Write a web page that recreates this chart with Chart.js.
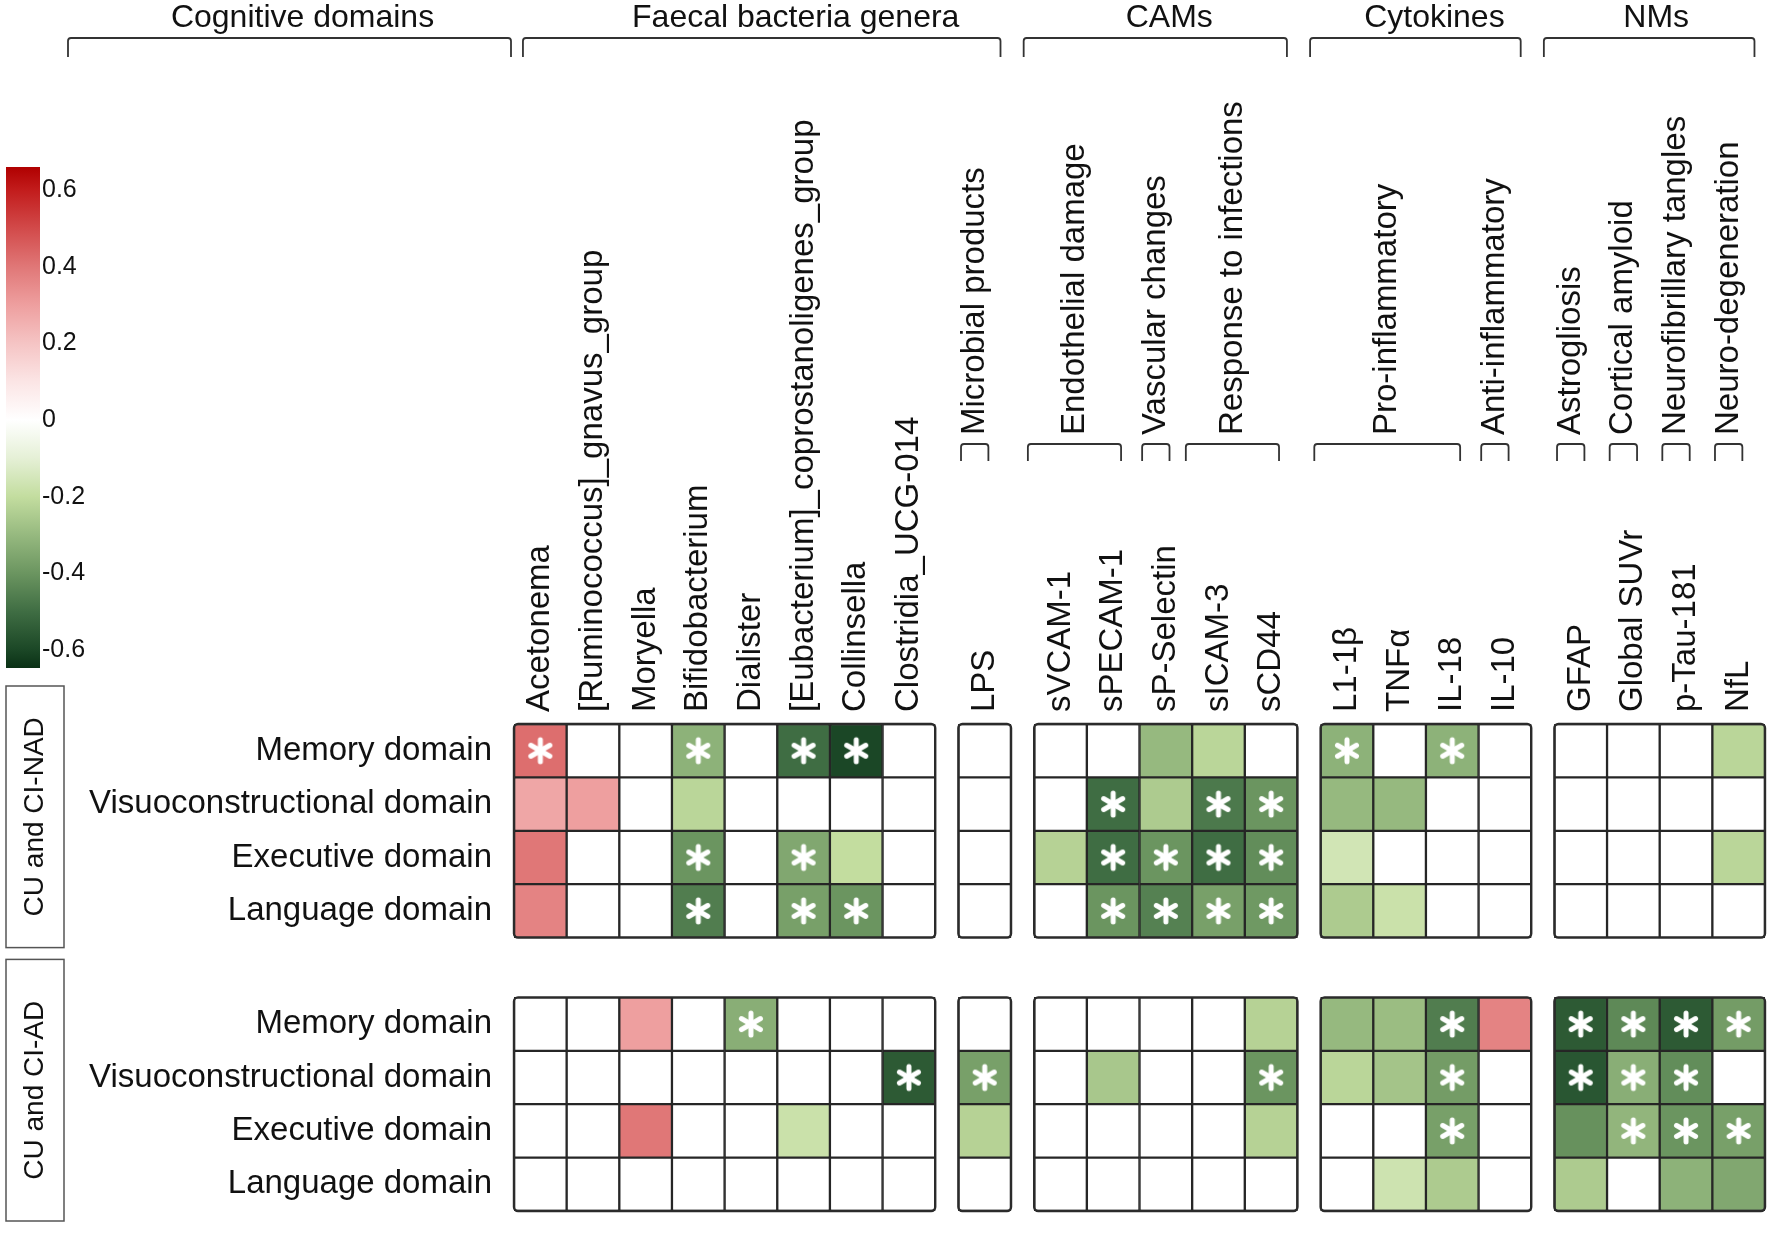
<!DOCTYPE html>
<html lang="en">
<head>
<meta charset="UTF-8">
<title>Cognitive domains vs gut and plasma markers</title>
<script src="https://cdn.jsdelivr.net/npm/chart.js@4.4.1/dist/chart.umd.min.js"></script>
<style>
  html, body { margin: 0; padding: 0; background: #fff; overflow: hidden; }
  #wrap { position: relative; width: 1772px; height: 1233px; }
  #heat { position: absolute; left: 0; top: 0; }
  #scale { position: absolute; left: 0; top: 0; }
</style>
</head>
<body>
<div id="wrap">
  <canvas id="heat" width="1772" height="1233"></canvas>
  <canvas id="scale" width="110" height="700"></canvas>
</div>
<script>
// ---- data ----
var columns = ['Acetonema', '[Ruminococcus]_gnavus_group', 'Moryella', 'Bifidobacterium', 'Dialister',
  '[Eubacterium]_coprostanoligenes_group', 'Collinsella', 'Clostridia_UCG-014', 'LPS',
  'sVCAM-1', 'sPECAM-1', 'sP-Selectin', 'sICAM-3', 'sCD44',
  'L1-1β', 'TNFα', 'IL-18', 'IL-10',
  'GFAP', 'Global SUVr', 'p-Tau-181', 'NfL'];
var blockSizes = [8, 1, 5, 4, 4];
var domains = ['Memory domain', 'Visuoconstructional domain', 'Executive domain', 'Language domain'];
var cohorts = ['CU and CI-NAD', 'CU and CI-AD'];

var topGroups = [
  { name: 'Faecal bacteria genera', first: 0, last: 8 },
  { name: 'CAMs', first: 9, last: 13 },
  { name: 'Cytokines', first: 14, last: 17 },
  { name: 'NMs', first: 18, last: 21 }
];
var subGroups = [
  { name: 'Microbial products', first: 8, last: 8 },
  { name: 'Endothelial damage', first: 9, last: 10 },
  { name: 'Vascular changes', first: 11, last: 11 },
  { name: 'Response to infections', first: 12, last: 13 },
  { name: 'Pro-inflammatory', first: 14, last: 16 },
  { name: 'Anti-inflammatory', first: 17, last: 17 },
  { name: 'Astrogliosis', first: 18, last: 18 },
  { name: 'Cortical amyloid', first: 19, last: 19 },
  { name: 'Neurofibrillary tangles', first: 20, last: 20 },
  { name: 'Neuro-degeneration', first: 21, last: 21 }
];

// correlation coefficients, one array per row (CU and CI-NAD)
var nadMemory = [0.42, 0, 0, -0.32, 0, -0.5, -0.6, 0, 0, 0, 0, -0.3, -0.22, 0, -0.32, 0, -0.32, 0, 0, 0, 0, -0.22];
var nadVisuo  = [0.28, 0.3, 0, -0.22, 0, 0, 0, 0, 0, 0, -0.5, -0.25, -0.47, -0.4, -0.3, -0.3, 0, 0, 0, 0, 0, 0];
var nadExec   = [0.4, 0, 0, -0.4, 0, -0.35, -0.2, 0, 0, -0.23, -0.5, -0.4, -0.5, -0.42, -0.16, 0, 0, 0, 0, 0, 0, -0.22];
var nadLang   = [0.37, 0, 0, -0.46, 0, -0.37, -0.4, 0, 0, 0, -0.4, -0.45, -0.37, -0.39, -0.25, -0.18, 0, 0, 0, 0, 0, 0];
// CU and CI-AD
var adMemory = [0, 0, 0.3, 0, -0.33, 0, 0, 0, 0, 0, 0, 0, 0, -0.23, -0.3, -0.29, -0.46, 0.37, -0.55, -0.43, -0.55, -0.38];
var adVisuo  = [0, 0, 0, 0, 0, 0, 0, -0.55, -0.37, 0, -0.26, 0, 0, -0.4, -0.22, -0.27, -0.38, 0, -0.56, -0.33, -0.42, 0];
var adExec   = [0, 0, 0.4, 0, 0, -0.18, 0, 0, -0.23, 0, 0, 0, 0, -0.23, 0, 0, -0.37, 0, -0.41, -0.31, -0.4, -0.37];
var adLang   = [0, 0, 0, 0, 0, 0, 0, 0, 0, 0, 0, 0, 0, 0, 0, -0.17, -0.25, 0, -0.25, 0, -0.32, -0.35];

// column indices marked with an asterisk
var nadMemorySig = [0, 3, 5, 6, 14, 16];
var nadVisuoSig  = [10, 12, 13];
var nadExecSig   = [3, 5, 10, 11, 12, 13];
var nadLangSig   = [3, 5, 6, 10, 11, 12, 13];
var adMemorySig  = [4, 16, 18, 19, 20, 21];
var adVisuoSig   = [7, 8, 13, 16, 18, 19, 20];
var adExecSig    = [16, 19, 20, 21];
var adLangSig    = [];

// colour bar
var scaleTicks = [0.6, 0.4, 0.2, 0, -0.2, -0.4, -0.6];
var scaleTickLabels = ['0.6', '0.4', '0.2', '0', '-0.2', '-0.4', '-0.6'];
var scaleMin = -0.647, scaleMax = 0.66;

// ---- layout helpers ----
var rows = [[nadMemory, nadVisuo, nadExec, nadLang], [adMemory, adVisuo, adExec, adLang]];
var sigs = [[nadMemorySig, nadVisuoSig, nadExecSig, nadLangSig], [adMemorySig, adVisuoSig, adExecSig, adLangSig]];

var COL_GAP = 0.44;   // gap between column blocks, in cell widths
var ROW_GAP = 1.12;   // gap between the two cohorts, in cell heights
var FONT = "'Liberation Sans', Arial, Helvetica, sans-serif";
var LABEL_SIZE = 33;
var headShift = [13, 34, 14, 19, 7];   // header text nudges (px)

var colX = [];
(function () {
  var x = 0;
  blockSizes.forEach(function (n) {
    for (var i = 0; i < n; i++) { colX.push(x); x += 1; }
    x += COL_GAP;
  });
})();
function rowY(c, r) { return c * (domains.length + ROW_GAP) + r; }
var rowTicks = [];
cohorts.forEach(function (c, ci) { domains.forEach(function (d, ri) { rowTicks.push(rowY(ci, ri)); }); });

// diverging green - white - red
var stops = [
  [-0.66, '#0a3115'], [-0.6, '#1b4726'], [-0.5, '#3f6d43'], [-0.4, '#6b9560'],
  [-0.3, '#96b97f'], [-0.2, '#c3dd9f'], [-0.1, '#e5f0d6'], [0, '#ffffff'],
  [0.1, '#fbe5e5'], [0.2, '#f5c4c4'], [0.3, '#ee9f9f'], [0.4, '#e07777'],
  [0.5, '#d24a4a'], [0.6, '#c21c1c'], [0.66, '#b00000']
];
function hex(h) { return [parseInt(h.substr(1, 2), 16), parseInt(h.substr(3, 2), 16), parseInt(h.substr(5, 2), 16)]; }
function colorFor(v) {
  if (v <= stops[0][0]) return stops[0][1];
  for (var i = 1; i < stops.length; i++) {
    if (v <= stops[i][0]) {
      var a = stops[i - 1], b = stops[i];
      var t = (v - a[0]) / (b[0] - a[0]);
      var ca = hex(a[1]), cb = hex(b[1]);
      return 'rgb(' + ca.map(function (c, k) { return Math.round(c + (cb[k] - c) * t); }).join(',') + ')';
    }
  }
  return stops[stops.length - 1][1];
}

// white asterisk used as point style
var star = document.createElement('canvas');
star.width = 32; star.height = 32;
(function () {
  var g = star.getContext('2d');
  g.strokeStyle = '#ffffff';
  g.lineWidth = 5;
  g.lineCap = 'round';
  [90, 30, 150].forEach(function (deg) {
    var a = deg * Math.PI / 180, r = 11;
    g.beginPath();
    g.moveTo(16 - r * Math.cos(a), 16 - r * Math.sin(a));
    g.lineTo(16 + r * Math.cos(a), 16 + r * Math.sin(a));
    g.stroke();
  });
})();

// ---- datasets ----
var datasets = [];
var starPoints = [];
rows.forEach(function (block, ci) {
  block.forEach(function (vals, ri) {
    var y = rowY(ci, ri);
    datasets.push({
      type: 'bar',
      label: cohorts[ci] + ' ' + domains[ri],
      data: vals.map(function (v, i) { return { x: colX[i], y: [y - 0.5, y + 0.5] }; }),
      backgroundColor: vals.map(colorFor),
      borderColor: '#262626',
      borderWidth: 1.5,
      borderSkipped: false,
      grouped: false,
      barPercentage: 1,
      categoryPercentage: 1,
      order: 2
    });
    sigs[ci][ri].forEach(function (i) { starPoints.push({ x: colX[i], y: y }); });
  });
});
datasets.push({
  type: 'scatter',
  label: 'p < 0.05',
  data: starPoints,
  pointStyle: star,
  order: 0
});

function bracket(ctx, x0, x1, yTop, yBot) {
  var r = 3;
  ctx.beginPath();
  ctx.moveTo(x0, yBot);
  ctx.lineTo(x0, yTop + r);
  ctx.quadraticCurveTo(x0, yTop, x0 + r, yTop);
  ctx.lineTo(x1 - r, yTop);
  ctx.quadraticCurveTo(x1, yTop, x1, yTop + r);
  ctx.lineTo(x1, yBot);
  ctx.stroke();
}

var decor = {
  id: 'decor',
  afterDatasetsDraw: function (chart) {
    var ctx = chart.ctx, xs = chart.scales.x, ys = chart.scales.y;
    ctx.save();
    ctx.strokeStyle = '#2b2b2b';
    ctx.lineWidth = 2.4;
    var start = 0;
    blockSizes.forEach(function (n) {
      var x0 = xs.getPixelForValue(colX[start] - 0.5);
      var x1 = xs.getPixelForValue(colX[start + n - 1] + 0.5);
      cohorts.forEach(function (c, ci) {
        var y0 = ys.getPixelForValue(rowY(ci, 0) - 0.5);
        var y1 = ys.getPixelForValue(rowY(ci, domains.length - 1) + 0.5);
        ctx.beginPath();
        ctx.roundRect(x0, y0, x1 - x0, y1 - y0, 4);
        ctx.stroke();
      });
      start += n;
    });
    ctx.restore();
  },
  afterDraw: function (chart) {
    var ctx = chart.ctx, xs = chart.scales.x, ys = chart.scales.y, area = chart.chartArea;
    ctx.save();
    ctx.strokeStyle = '#333';
    ctx.lineWidth = 1.8;
    ctx.fillStyle = '#111';
    ctx.font = '32px ' + FONT;
    ctx.textAlign = 'center';
    ctx.textBaseline = 'middle';

    // top headers
    var heads = [{ name: 'Cognitive domains', x0: 68, x1: area.left - 3 }];
    topGroups.forEach(function (g, k) {
      var x0 = xs.getPixelForValue(colX[g.first] - 0.5 + (k === 0 ? 0.17 : -0.2));
      var x1 = xs.getPixelForValue(colX[g.last] + 0.5 - 0.2);
      heads.push({ name: g.name, x0: x0, x1: x1 });
    });
    heads.forEach(function (h, k) {
      bracket(ctx, h.x0, h.x1, 38, 57);
      ctx.fillText(h.name, (h.x0 + h.x1) / 2 + headShift[k], 18);
    });

    // sub groups: small bracket + rotated label
    ctx.font = LABEL_SIZE + 'px ' + FONT;
    subGroups.forEach(function (g) {
      var single = g.first === g.last;
      var x0 = xs.getPixelForValue(colX[g.first] - (single ? 0.45 : 0.62));
      var x1 = xs.getPixelForValue(colX[g.last] + (single ? 0.07 : 0.15));
      bracket(ctx, x0, x1, 444, 461);
      ctx.save();
      ctx.translate((x0 + x1) / 2, 435);
      ctx.rotate(-Math.PI / 2);
      ctx.textAlign = 'left';
      ctx.fillText(g.name, 0, 0);
      ctx.restore();
    });

    // cohort boxes on the left
    ctx.strokeStyle = '#555';
    ctx.lineWidth = 1.5;
    ctx.font = '28px ' + FONT;
    cohorts.forEach(function (c, ci) {
      var y0 = ys.getPixelForValue(rowY(ci, 0) - 0.5) - 38;
      var y1 = ys.getPixelForValue(rowY(ci, domains.length - 1) + 0.5) + 10;
      ctx.strokeRect(6, y0, 58, y1 - y0);
      ctx.save();
      ctx.translate(35, (y0 + y1) / 2);
      ctx.rotate(-Math.PI / 2);
      ctx.textAlign = 'center';
      ctx.fillText(c, 0, 0);
      ctx.restore();
    });
    ctx.restore();
  }
};

Chart.defaults.font.family = FONT;
Chart.defaults.color = '#111';

new Chart(document.getElementById('heat'), {
  type: 'bar',
  data: { datasets: datasets },
  options: {
    responsive: false,
    animation: false,
    events: [],
    layout: { padding: { left: 70, top: 0, right: 7, bottom: 22 } },
    plugins: { legend: { display: false }, tooltip: { enabled: false } },
    scales: {
      x: {
        type: 'linear',
        position: 'top',
        offset: false,
        min: colX[0] - 0.5,
        max: colX[colX.length - 1] + 0.5,
        grid: { display: false, drawTicks: false },
        border: { display: false },
        afterBuildTicks: function (s) { s.ticks = colX.map(function (v) { return { value: v }; }); },
        afterFit: function (s) { s.height = 724; s.paddingLeft = 0; s.paddingRight = 0; },
        ticks: {
          autoSkip: false,
          minRotation: 90,
          maxRotation: 90,
          padding: 12,
          labelOffset: LABEL_SIZE * 1.2,   // top + rotated labels sit one line left of the tick
          font: { size: LABEL_SIZE },
          color: '#111',
          callback: function (v, i) { return columns[i]; }
        }
      },
      y: {
        type: 'linear',
        reverse: true,
        min: -0.5,
        max: rowY(cohorts.length - 1, domains.length - 1) + 0.5,
        grid: { display: false, drawTicks: false },
        border: { display: false },
        afterBuildTicks: function (s) { s.ticks = rowTicks.map(function (v) { return { value: v }; }); },
        afterFit: function (s) { s.width = 444; s.paddingTop = 0; s.paddingBottom = 0; },
        ticks: {
          autoSkip: false,
          padding: 22,
          font: { size: 33 },
          color: '#111',
          callback: function (v, i) { return domains[i % domains.length]; }
        }
      }
    }
  },
  plugins: [decor]
});

// colour bar legend
new Chart(document.getElementById('scale'), {
  type: 'bar',
  data: {
    labels: [''],
    datasets: [{
      data: [[scaleMin, scaleMax]],
      backgroundColor: function (c) {
        var ch = c.chart;
        if (!ch.chartArea) return '#ffffff';
        var y = ch.scales.y;
        var g = ch.ctx.createLinearGradient(0, y.getPixelForValue(scaleMin), 0, y.getPixelForValue(scaleMax));
        stops.forEach(function (s) {
          var t = (s[0] - scaleMin) / (scaleMax - scaleMin);
          g.addColorStop(Math.min(1, Math.max(0, t)), s[1]);
        });
        return g;
      },
      borderWidth: 0,
      barPercentage: 1,
      categoryPercentage: 1
    }]
  },
  options: {
    responsive: false,
    animation: false,
    events: [],
    layout: { padding: { left: 6, top: 167, bottom: 32, right: 0 } },
    plugins: { legend: { display: false }, tooltip: { enabled: false } },
    scales: {
      x: { display: false },
      y: {
        position: 'right',
        min: scaleMin,
        max: scaleMax,
        grid: { display: false, drawTicks: false },
        border: { display: false },
        afterBuildTicks: function (s) { s.ticks = scaleTicks.map(function (v) { return { value: v }; }); },
        afterFit: function (s) { s.width = 70; },
        ticks: {
          padding: 2,
          font: { size: 25 },
          color: '#111',
          callback: function (v, i) { return scaleTickLabels[i]; }
        }
      }
    }
  }
});
</script>
</body>
</html>
